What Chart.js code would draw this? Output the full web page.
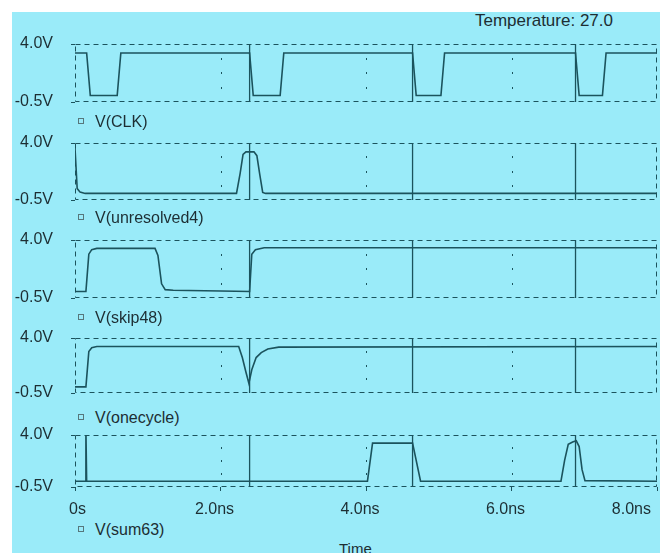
<!DOCTYPE html>
<html>
<head>
<meta charset="utf-8">
<script src="https://cdn.jsdelivr.net/npm/chart.js@4.4.1/dist/chart.umd.min.js"></script>
<style>
  html, body { margin: 0; padding: 0; background: #fff; }
  body { width: 670px; height: 553px; overflow: hidden; position: relative;
         font-family: "Liberation Sans", Arial, sans-serif; color: #1d2e33; }
  #plot { position: absolute; left: 12px; top: 12px; width: 648px; height: 541px; background: #9aebf9; }
  canvas.panel { position: absolute; left: 0; }
  .legend { position: absolute; left: 78px; font-size: 16px; line-height: 18px; white-space: nowrap; }
  .legend i { display: inline-block; width: 4px; height: 4px; border: 1px solid #56777c;
              margin-right: 11px; vertical-align: 3px; }
  #temp { position: absolute; left: 475px; top: 12px; font-size: 17px; line-height: 18px; }
  #timeLabel { position: absolute; left: 339px; top: 540px; font-size: 15px; line-height: 18px; }
</style>
</head>
<body>
<div id="plot"></div>
<div id="temp">Temperature: 27.0</div>
<div id="timeLabel">Time</div>
<script>
// time axis (ns)
const xTickValues = [0, 2, 4, 6, 8];
const xTickLabels = ["0s", "2.0ns", "4.0ns", "6.0ns", "8.0ns"];
const gridTimes = [2, 4, 6];
const yTickValues = [-0.5, 4.0];
const yTickLabels = ["-0.5V", "4.0V"];

// full-height edges seen in every panel
const edgeTimes = [2.40, 4.64, 6.88];

// V(CLK)
const clkTime = [0, 0.16, 0.21, 0.58, 0.63, 2.40, 2.45, 2.82, 2.87, 4.64, 4.69, 5.03, 5.08, 6.88, 6.93, 7.25, 7.30, 8.0];
const clkVolt = [3.3, 3.3, 0, 0, 3.3, 3.3, 0, 0, 3.3, 3.3, 0, 0, 3.3, 3.3, 0, 0, 3.3, 3.3];

// V(unresolved4)
const unresTime = [0, 0.03, 0.07, 0.14, 2.22, 2.27, 2.31, 2.35, 2.46, 2.50, 2.54, 2.58, 2.62, 8.0];
const unresVolt = [3.6, 0.4, 0.12, 0.02, 0.02, 1.6, 3.1, 3.3, 3.3, 3.0, 1.5, 0.1, 0.02, 0.02];

// V(skip48)
const skipTime = [0, 0.15, 0.19, 0.23, 0.3, 1.1, 1.14, 1.19, 1.24, 1.35, 2.0, 2.40, 2.43, 2.48, 2.6, 4.0, 8.0];
const skipVolt = [0, 0, 2.9, 3.25, 3.35, 3.35, 2.8, 0.6, 0.15, 0.1, 0.04, 0, 2.9, 3.25, 3.4, 3.4, 3.4];

// V(onecycle)
const oneTime = [0, 0.15, 0.19, 0.23, 0.3, 2.25, 2.3, 2.35, 2.39, 2.43, 2.49, 2.56, 2.65, 2.8, 8.0];
const oneVolt = [0, 0, 2.9, 3.2, 3.3, 3.3, 2.4, 1.2, 0.3, 1.4, 2.4, 2.8, 3.1, 3.25, 3.3];

// V(sum63)
const sumTime = [0, 0.14, 0.15, 0.16, 4.02, 4.09, 4.64, 4.75, 6.68, 6.73, 6.78, 6.84, 6.89, 6.93, 6.97, 7.01, 8.0];
const sumVolt = [0, 0, 4.5, 0, 0, 3.3, 3.3, 0, 0, 1.8, 3.2, 3.4, 3.5, 3.0, 1.0, 0.05, 0];

const LINE = "#1b535d";
const TEXT = "#1d2e33";

Chart.defaults.font.family = "'Liberation Sans', Arial, sans-serif";
Chart.defaults.font.size = 16;
Chart.defaults.color = TEXT;

// panel placement on the page (chart area top / bottom, legend line)
const panels = [
  { name: "V(CLK)",         time: clkTime,   volt: clkVolt,   top: 44,  bottom: 102, legend: 113 },
  { name: "V(unresolved4)", time: unresTime, volt: unresVolt, top: 143, bottom: 200, legend: 209 },
  { name: "V(skip48)",      time: skipTime,  volt: skipVolt,  top: 240, bottom: 298, legend: 309 },
  { name: "V(onecycle)",    time: oneTime,   volt: oneVolt,   top: 338, bottom: 393, legend: 409 },
  { name: "V(sum63)",       time: sumTime,   volt: sumVolt,   top: 435, bottom: 487, legend: 521, axis: true },
];

// dashed frame plus the sparse dotted grid
const framePlugin = {
  id: "frame",
  beforeDatasetsDraw(chart) {
    const { ctx, chartArea: a, scales: { x } } = chart;
    ctx.save();
    ctx.strokeStyle = LINE;
    ctx.lineWidth = 1;
    ctx.setLineDash([5, 4]);
    ctx.strokeRect(Math.round(a.left) + 0.5, Math.round(a.top) + 0.5,
                   Math.round(a.width) - 1, Math.round(a.height) - 1);
    ctx.setLineDash([]);
    gridTimes.forEach((t) => {
      const px = Math.round(x.getPixelForValue(t)) + 0.5;
      [0.25, 0.5, 0.75].forEach((f) => {
        const py = Math.round(a.top + a.height * f);
        ctx.beginPath();
        ctx.moveTo(px, py - 1);
        ctx.lineTo(px, py + 1);
        ctx.stroke();
      });
    });
    ctx.restore();
  },
};

function makePanel(p) {
  const PAD = 12, AXIS_H = 34;
  const canvas = document.createElement("canvas");
  canvas.className = "panel";
  const h = PAD + (p.bottom - p.top) + (p.axis ? AXIS_H : PAD);
  canvas.width = 670;
  canvas.height = h;
  canvas.style.top = p.top - PAD + "px";
  document.body.appendChild(canvas);

  const leg = document.createElement("div");
  leg.className = "legend";
  leg.style.top = p.legend + "px";
  leg.innerHTML = "<i></i>" + p.name;
  document.body.appendChild(leg);

  const edges = [];
  edgeTimes.forEach((t) => {
    edges.push({ x: t, y: -0.5 }, { x: t, y: 4.0 }, { x: t, y: null });
  });

  new Chart(canvas, {
    type: "line",
    data: {
      datasets: [
        {
          data: p.time.map((t, i) => ({ x: t, y: p.volt[i] })),
          borderColor: LINE,
          borderWidth: 1.6,
          pointRadius: 0,
          tension: 0,
        },
        {
          data: edges,
          borderColor: LINE,
          borderWidth: 1.3,
          pointRadius: 0,
          spanGaps: false,
        },
      ],
    },
    plugins: [framePlugin],
    options: {
      responsive: false,
      animation: false,
      events: [],
      layout: { autoPadding: false, padding: { top: PAD, bottom: p.axis ? 0 : PAD, left: 0, right: 13 } },
      plugins: { legend: { display: false }, tooltip: { enabled: false } },
      scales: {
        x: {
          type: "linear",
          min: 0,
          max: 8,
          display: !!p.axis,
          afterFit: (s) => {
            s.height = p.axis ? AXIS_H : 0;
            s.paddingLeft = 0;
            s.paddingRight = 0;
          },
          afterBuildTicks: (s) => { s.ticks = xTickValues.map((v) => ({ value: v })); },
          border: { display: false },
          grid: { drawOnChartArea: false, drawTicks: true, tickLength: 4, color: LINE },
          ticks: {
            align: "inner",
            labelOffset: -6,
            padding: 9,
            maxRotation: 0,
            color: TEXT,
            callback: (v) => xTickLabels[xTickValues.indexOf(v)],
          },
        },
        y: {
          type: "linear",
          min: -0.5,
          max: 4.0,
          afterFit: (s) => {
            s.width = 75;
            s.paddingTop = 0;
            s.paddingBottom = 0;
          },
          afterBuildTicks: (s) => { s.ticks = yTickValues.map((v) => ({ value: v })); },
          border: { display: false },
          grid: { drawOnChartArea: false, drawTicks: true, tickLength: 4, color: LINE },
          ticks: {
            padding: 18,
            color: TEXT,
            callback: (v) => yTickLabels[yTickValues.indexOf(v)],
          },
        },
      },
    },
  });
}

panels.forEach(makePanel);
</script>
</body>
</html>
